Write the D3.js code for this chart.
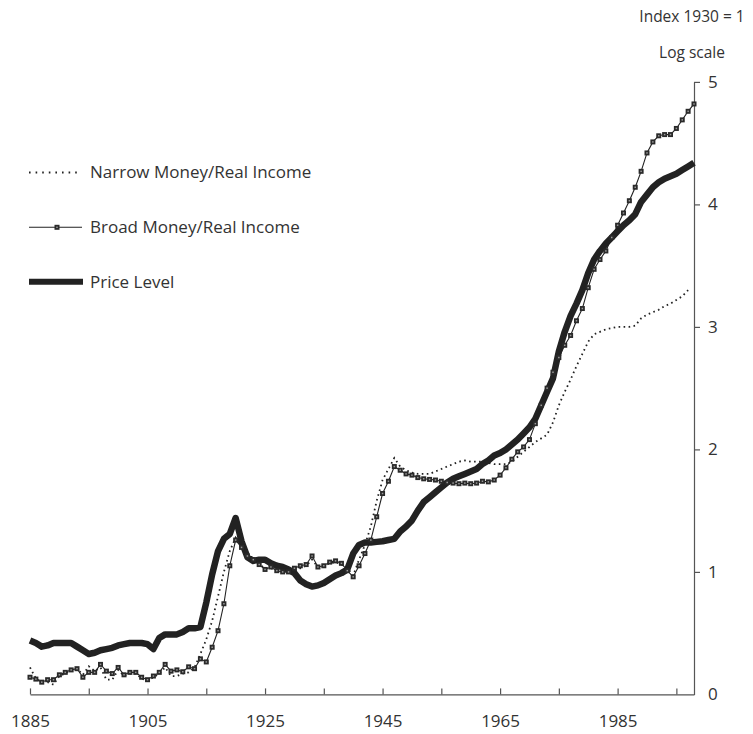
<!DOCTYPE html>
<html>
<head>
<meta charset="utf-8">
<script src="https://cdn.jsdelivr.net/npm/d3@7/dist/d3.min.js"></script>
<style>
  html, body { margin: 0; padding: 0; background: #fff; }
  svg { display: block; }
  text { font-family: "Open Sans", "Noto Sans", sans-serif; fill: #333; }
</style>
</head>
<body>
<svg id="chart" width="753" height="734"></svg>
<script>
const years = [1885,1886,1887,1888,1889,1890,1891,1892,1893,1894,1895,1896,1897,1898,1899,
1900,1901,1902,1903,1904,1905,1906,1907,1908,1909,1910,1911,1912,1913,1914,1915,1916,1917,1918,1919,
1920,1921,1922,1923,1924,1925,1926,1927,1928,1929,1930,1931,1932,1933,1934,1935,1936,1937,1938,1939,
1940,1941,1942,1943,1944,1945,1946,1947,1948,1949,1950,1951,1952,1953,1954,1955,1956,1957,1958,1959,
1960,1961,1962,1963,1964,1965,1966,1967,1968,1969,1970,1971,1972,1973,1974,1975,1976,1977,1978,1979,
1980,1981,1982,1983,1984,1985,1986,1987,1988,1989,1990,1991,1992,1993,1994,1995,1996,1997,1998];

const priceLevel = [0.44,0.42,0.39,0.40,0.42,0.42,0.42,0.42,0.39,0.36,0.33,0.34,0.36,0.37,0.38,
0.40,0.41,0.42,0.42,0.42,0.41,0.37,0.46,0.49,0.49,0.49,0.51,0.54,0.54,0.55,0.75,0.98,1.17,1.27,1.31,
1.44,1.25,1.12,1.09,1.10,1.10,1.07,1.05,1.04,1.02,0.99,0.93,0.90,0.88,0.89,0.91,0.94,0.97,0.99,1.02,
1.15,1.22,1.24,1.24,1.245,1.25,1.26,1.27,1.33,1.37,1.42,1.50,1.57,1.61,1.65,1.69,1.73,1.76,1.78,1.80,
1.82,1.84,1.88,1.91,1.95,1.97,2.00,2.04,2.08,2.13,2.18,2.25,2.36,2.47,2.58,2.80,2.96,3.09,3.19,3.30,
3.44,3.55,3.62,3.68,3.73,3.78,3.83,3.87,3.92,4.02,4.08,4.14,4.18,4.21,4.23,4.25,4.28,4.31,4.34];

const broadMoney = [0.14,0.125,0.10,0.12,0.12,0.16,0.18,0.20,0.21,0.14,0.18,0.18,0.245,0.19,0.17,
0.22,0.16,0.18,0.18,0.14,0.12,0.15,0.18,0.245,0.19,0.20,0.185,0.225,0.21,0.29,0.265,0.385,0.52,0.74,1.05,
1.26,1.20,1.13,1.10,1.06,1.02,1.04,1.01,1.00,1.00,1.03,1.05,1.06,1.13,1.04,1.05,1.08,1.09,1.07,1.01,
0.96,1.05,1.15,1.26,1.45,1.64,1.74,1.86,1.83,1.80,1.79,1.77,1.76,1.755,1.75,1.74,1.73,1.725,1.72,1.725,
1.72,1.725,1.74,1.735,1.75,1.79,1.85,1.92,1.98,2.02,2.08,2.21,2.36,2.50,2.63,2.75,2.85,2.93,3.05,3.15,
3.32,3.47,3.55,3.62,3.73,3.83,3.93,4.03,4.14,4.27,4.42,4.51,4.56,4.57,4.57,4.62,4.69,4.76,4.82];

const narrowMoney = [0.22,0.13,0.10,0.10,0.08,0.15,0.17,0.20,0.21,0.16,0.23,0.19,0.22,0.12,0.12,
0.20,0.15,0.17,0.17,0.13,0.11,0.14,0.17,0.22,0.15,0.15,0.17,0.18,0.22,0.33,0.45,0.60,0.80,1.00,1.17,
1.28,1.20,1.13,1.09,1.06,1.03,1.03,1.01,1.00,1.00,1.00,1.03,1.05,1.10,1.04,1.05,1.07,1.08,1.06,1.03,
0.97,1.10,1.22,1.37,1.58,1.75,1.84,1.93,1.86,1.83,1.81,1.80,1.80,1.80,1.82,1.84,1.86,1.88,1.90,1.91,
1.90,1.90,1.90,1.89,1.88,1.88,1.88,1.90,1.94,1.98,2.02,2.06,2.09,2.12,2.22,2.36,2.47,2.57,2.68,2.78,
2.88,2.94,2.96,2.98,2.99,3.00,3.00,3.00,3.01,3.07,3.10,3.12,3.14,3.17,3.19,3.22,3.25,3.30];

const xTickYears = [1885,1895,1905,1915,1925,1935,1945,1955,1965,1975,1985,1995];
const xLabelYears = [1885,1905,1925,1945,1965,1985];
const yTicks = [0,1,2,3,4,5];
const legendLabels = ["Narrow Money/Real Income","Broad Money/Real Income","Price Level"];
const unitLabel = "Index 1930 = 1";
const scaleLabel = "Log scale";

const svg = d3.select("#chart");
const x = d3.scaleLinear().domain([1885, 1998]).range([30, 694]);
const y = d3.scaleLinear().domain([0, 5]).range([694.4, 81.9]);

const axisColor = "#555";
const ink = "#222";

// X axis
const xAxis = d3.axisBottom(x)
  .tickValues(xTickYears)
  .tickSize(-6)
  .tickSizeOuter(0)
  .tickPadding(21)
  .tickFormat(d => xLabelYears.includes(d) ? String(d) : "");
const gx = svg.append("g").attr("transform", `translate(0,${y(0)})`).call(xAxis);
gx.select(".domain").attr("stroke", axisColor).attr("stroke-width", 1.2);
gx.selectAll(".tick line").attr("stroke", axisColor).attr("stroke-width", 1.2);
gx.selectAll(".tick text").attr("font-size", 17).attr("fill", "#333")
  .attr("font-family", '"Open Sans", sans-serif');

// Y axis (right)
const yAxis = d3.axisRight(y)
  .tickValues(yTicks)
  .tickSize(6)
  .tickSizeOuter(0)
  .tickPadding(8)
  .tickFormat(d3.format("d"));
const gy = svg.append("g").attr("transform", `translate(${x(1998)},0)`).call(yAxis);
gy.select(".domain").attr("stroke", axisColor).attr("stroke-width", 1.2);
gy.selectAll(".tick line").attr("stroke", axisColor).attr("stroke-width", 1.2)
  .filter(d => d === 0).remove();
gy.selectAll(".tick text").attr("font-size", 17).attr("fill", "#333")
  .attr("font-family", '"Open Sans", sans-serif');

// Top-right labels
svg.append("text").attr("x", 692).attr("y", 17).attr("dy", "0.35em")
  .attr("text-anchor", "middle").attr("font-size", 15.5).text(unitLabel);
svg.append("text").attr("x", 692).attr("y", 53).attr("dy", "0.35em")
  .attr("text-anchor", "middle").attr("font-size", 15.5).text(scaleLabel);

// Lines
const priceData = years.map((yr, i) => ({yr, v: priceLevel[i]}));
const broadData = years.map((yr, i) => ({yr, v: broadMoney[i]}));
const narrowData = narrowMoney.map((v, i) => ({yr: years[i], v}));

const line = d3.line().x(d => x(d.yr)).y(d => y(d.v));

svg.append("path").datum(priceData).attr("d", line)
  .attr("fill", "none").attr("stroke", ink).attr("stroke-width", 6.5)
  .attr("stroke-linejoin", "round");

svg.append("path").datum(narrowData).attr("d", line)
  .attr("fill", "none").attr("stroke", ink).attr("stroke-width", 1.8)
  .attr("stroke-dasharray", "1.6,3.4");

svg.append("path").datum(broadData).attr("d", line)
  .attr("fill", "none").attr("stroke", ink).attr("stroke-width", 1.1);

const ms = 5;
const markers = svg.append("g");
markers.selectAll("rect.m").data(broadData).join("rect")
  .attr("class", "m")
  .attr("x", d => x(d.yr) - ms / 2).attr("y", d => y(d.v) - ms / 2)
  .attr("width", ms).attr("height", ms).attr("fill", "#2a2a2a");
markers.selectAll("rect.c").data(broadData).join("rect")
  .attr("class", "c")
  .attr("x", d => x(d.yr) - 0.75).attr("y", d => y(d.v) - 0.75)
  .attr("width", 1.5).attr("height", 1.5).attr("fill", "#999");

// Legend
const lg = svg.append("g");
const legY = [172.5, 227.3, 281.7];
lg.append("line").attr("x1", 29).attr("x2", 80).attr("y1", legY[0]).attr("y2", legY[0])
  .attr("stroke", ink).attr("stroke-width", 1.8).attr("stroke-dasharray", "1.6,5");
lg.append("line").attr("x1", 29).attr("x2", 82).attr("y1", legY[1]).attr("y2", legY[1])
  .attr("stroke", ink).attr("stroke-width", 1.1);
lg.append("rect").attr("x", 57 - ms / 2).attr("y", legY[1] - ms / 2)
  .attr("width", ms).attr("height", ms).attr("fill", "#2a2a2a");
lg.append("rect").attr("x", 57 - 0.75).attr("y", legY[1] - 0.75)
  .attr("width", 1.5).attr("height", 1.5).attr("fill", "#999");
lg.append("line").attr("x1", 29).attr("x2", 83).attr("y1", legY[2]).attr("y2", legY[2])
  .attr("stroke", ink).attr("stroke-width", 6);
legendLabels.forEach((t, i) => {
  lg.append("text").attr("x", 90).attr("y", legY[i]).attr("dy", "0.35em")
    .attr("font-size", 17).text(t);
});
</script>
</body>
</html>
